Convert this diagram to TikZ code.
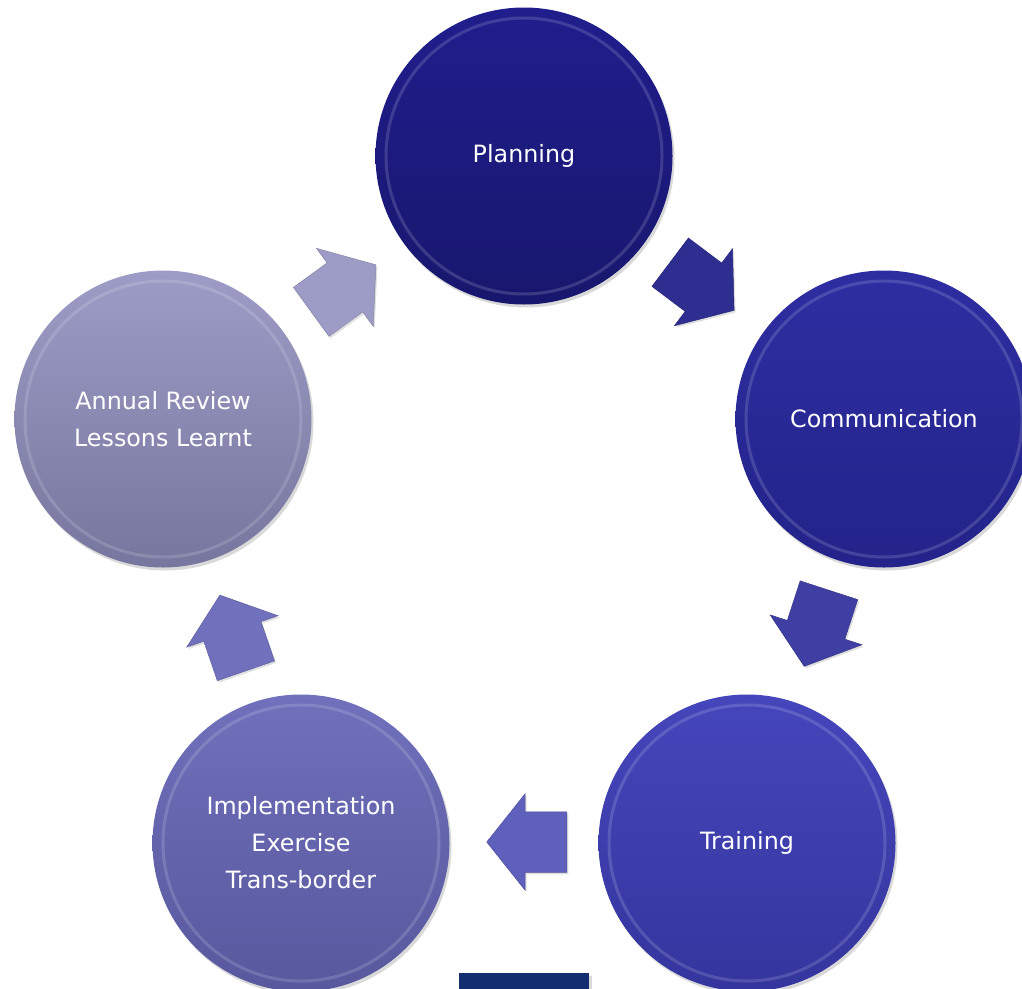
\documentclass[tikz,border=0pt]{standalone}
\usepackage{fontspec}
\setmainfont{DejaVu Sans}
\usepackage{tikz}
\usetikzlibrary{shapes.arrows, shadows}

\definecolor{planTop}{HTML}{201E8C}
\definecolor{planBot}{HTML}{18176E}
\definecolor{commTop}{HTML}{2E2EA2}
\definecolor{commBot}{HTML}{23238A}
\definecolor{trainTop}{HTML}{4646BC}
\definecolor{trainBot}{HTML}{35359E}
\definecolor{implTop}{HTML}{7070BC}
\definecolor{implBot}{HTML}{58589E}
\definecolor{revTop}{HTML}{9C9CC6}
\definecolor{revBot}{HTML}{76769E}
\definecolor{barBlue}{HTML}{142E72}

\begin{document}
\begin{tikzpicture}[x=1pt, y=-1pt,
    stage/.style={circle, minimum size=297pt, inner sep=0pt, align=center, text=white,
        font=\fontsize{23.8}{37}\selectfont,
        drop shadow={opacity=0.3, shadow xshift=2pt, shadow yshift=-3pt},
        path picture={\draw[white, opacity=0.15, line width=3pt]
            (path picture bounding box.center) circle (138pt);}},
    flow/.style={single arrow, anchor=tail, minimum height=80pt, inner xsep=0pt, inner ysep=30pt,
        single arrow head extend=18pt, single arrow tip angle=103,
        fill=#1, draw=#1!85!black, line width=0.5pt,
        drop shadow={opacity=0.25, shadow xshift=1.5pt, shadow yshift=-2pt}}]
    %\draw[help lines, step=100] (0, 0) grid (1022, 988);
    \useasboundingbox (0, 0) rectangle (1022, 988);

    % stages of the cycle
    \node[stage, top color=planTop, bottom color=planBot] (plan) at (524, 156) {Planning};
    \node[stage, top color=commTop, bottom color=commBot] (comm) at (884, 419) {Communication};
    \node[stage, top color=trainTop, bottom color=trainBot] (train) at (747, 843) {Training};
    \node[stage, top color=implTop, bottom color=implBot] (impl) at (301, 843)
        {Implementation\\Exercise\\Trans-border};
    \node[stage, top color=revTop, bottom color=revBot] (review) at (163, 419)
        {Annual Review\\Lessons Learnt};

    % block arrows between the stages (placed by their tails)
    \node[flow=revTop, rotate=36] (a1) at (311, 312) {};
    \node[flow=commBot!95!white, rotate=-37] (a2) at (670, 262) {};
    \node[flow=trainBot!95!white, rotate=-108] (a3) at (829, 590) {};
    \node[flow=implTop!60!trainTop, rotate=180] (a4) at (567, 842) {};
    \node[flow=implTop, rotate=109] (a5) at (246, 671) {};

    \fill[barBlue, drop shadow={opacity=0.3}] (459, 973) rectangle (589, 995);

\end{tikzpicture}
\end{document}
